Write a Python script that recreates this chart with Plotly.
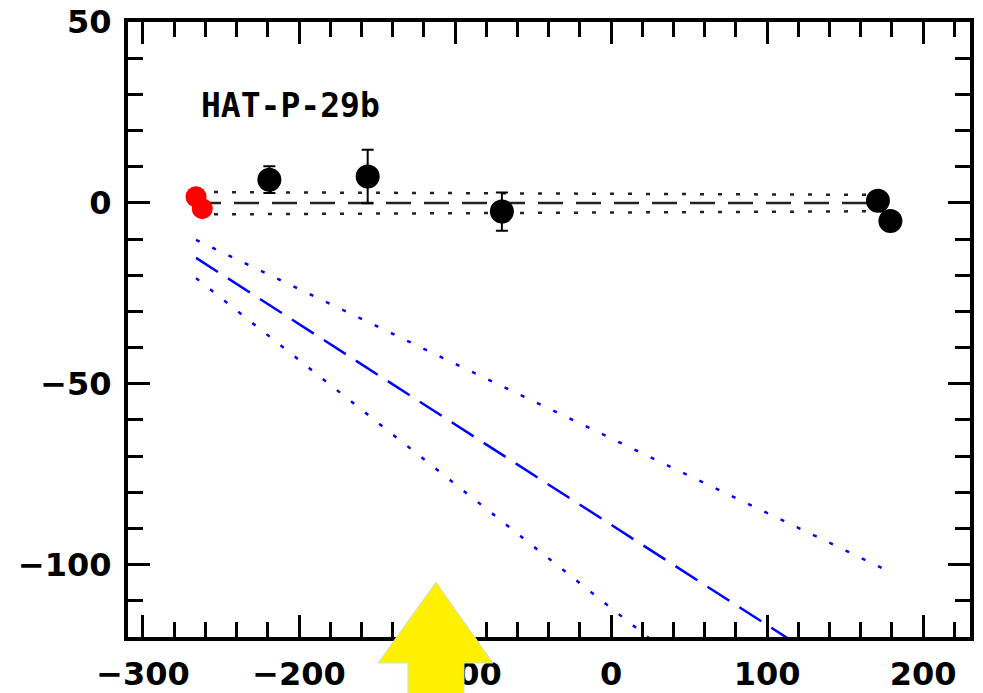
import plotly.graph_objects as go

# ---- data ----
red_x = [-266, -262]
red_y = [1.7, -1.6]

black_x = [-219, -156, -70, 171, 179]
black_y = [6.4, 7.3, -2.4, 0.6, -5.0]
black_err = [3.7, 7.4, 5.3, 2.5, 1.0]

flat_x = [-266, 175]
flat_mid_y = [0, 0]
flat_hi_y = [3.0, 2.2]
flat_lo_y = [-3.2, -2.3]

slope_x = [-266, 175]
slope_mid_y = [-15.2, -137.5]
slope_hi_y = [-10.2, -101.0]
slope_hi_x = [-266, 174]
slope_lo_y = [-20.8, -172.0]

x_ticks = [-300, -200, -100, 0, 100, 200]
y_ticks = [-100, -50, 0, 50]
label = "HAT-P-29b"

W, H = 983, 693
ML, MR, MT, MB = 128, 13, 22, 56
PW, PH = W - ML - MR, H - MT - MB

fig = go.Figure()

# black flat model lines
fig.add_trace(go.Scatter(x=flat_x, y=flat_mid_y, mode="lines",
                         line=dict(color="#222", width=2.5, dash="25px,13px")))
fig.add_trace(go.Scatter(x=flat_x, y=flat_hi_y, mode="lines",
                         line=dict(color="#222", width=2.5, dash="4px,14px")))
fig.add_trace(go.Scatter(x=flat_x, y=flat_lo_y, mode="lines",
                         line=dict(color="#222", width=2.5, dash="4px,14px")))

# blue sloped model lines
fig.add_trace(go.Scatter(x=slope_x, y=slope_mid_y, mode="lines",
                         line=dict(color="#0000ff", width=2.5, dash="26px,12px")))
fig.add_trace(go.Scatter(x=slope_hi_x, y=slope_hi_y, mode="lines",
                         line=dict(color="#0000ff", width=2.5, dash="4px,14px")))
fig.add_trace(go.Scatter(x=slope_x, y=slope_lo_y, mode="lines",
                         line=dict(color="#0000ff", width=2.5, dash="4px,14px")))

# data points
fig.add_trace(go.Scatter(x=red_x, y=red_y, mode="markers",
                         marker=dict(color="#ff0000", size=21, line=dict(width=0))))
fig.add_trace(go.Scatter(x=black_x, y=black_y, mode="markers",
                         error_y=dict(type="data", array=black_err, color="black",
                                      thickness=2, width=6),
                         marker=dict(color="black", size=24, line=dict(width=0))))

fig.add_annotation(x=-264, y=27, text="<b>%s</b>" % label, showarrow=False,
                   xanchor="left", yanchor="middle",
                   font=dict(family="DejaVu Sans Mono", size=33, color="black"))

# yellow arrow overlay (pixel outline converted to paper coords)
arrow_px = [(436, 582), (493, 663), (464, 663), (464, 696), (408, 696),
            (408, 663), (378, 663)]
def to_paper(p):
    return ((p[0] - ML) / PW, (H - MB - p[1]) / PH)
pts = [to_paper(p) for p in arrow_px]
path = "M " + " L ".join("%.4f,%.4f" % p for p in pts) + " Z"
fig.add_shape(type="path", path=path, xref="paper", yref="paper",
              fillcolor="#fff000", line=dict(color="#bfe3f0", width=1), layer="above")

axis_common = dict(showline=True, linecolor="black", linewidth=4, mirror="allticks",
                   ticks="inside", tickcolor="black", tickwidth=3, ticklen=22,
                   showgrid=False, zeroline=False, automargin=False,
                   tickfont=dict(family="DejaVu Sans", size=32, color="black", weight="bold"),
                   minor=dict(ticks="inside", ticklen=15, tickwidth=3, tickcolor="black",
                              showgrid=False))

fig.update_xaxes(range=[-309.6, 230], tickvals=x_ticks, minor_dtick=20,
                 minor_tick0=0, ticklabelstandoff=6, **axis_common)
fig.update_yaxes(range=[-120, 50], tickvals=y_ticks, minor_dtick=10,
                 minor_tick0=0, ticklabelstandoff=6, **axis_common)

fig.update_layout(width=W, height=H, margin=dict(l=ML, r=MR, t=MT, b=MB),
                  plot_bgcolor="white", paper_bgcolor="white", showlegend=False)

fig.write_html("out.html")
